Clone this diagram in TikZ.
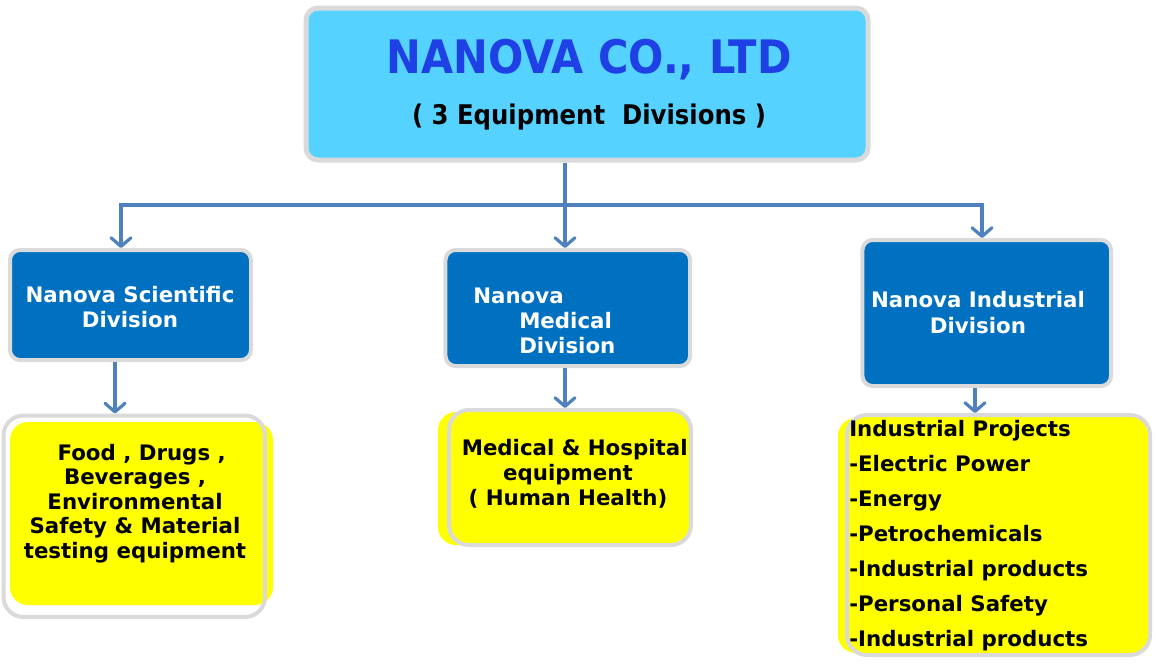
\documentclass[tikz,border=0pt]{standalone}
\usepackage{fontspec}
\setmainfont{DejaVu Sans}
\newfontfamily\narrowfont{DejaVu Sans}[FakeStretch=0.9]
\usetikzlibrary{arrows.meta}
\definecolor{topfill}{RGB}{85,210,255}
\definecolor{titleblue}{RGB}{30,64,228}
\definecolor{divblue}{RGB}{0,112,192}
\definecolor{arrowblue}{RGB}{79,129,189}
\definecolor{bordergray}{RGB}{218,218,218}
\definecolor{ylw}{RGB}{255,255,0}
\begin{document}
\begin{tikzpicture}[x=0.75pt,y=-0.75pt,
  topbox/.style={draw=bordergray, line width=3.75pt, fill=topfill, rounded corners=9pt, inner sep=0pt},
  divbox/.style={draw=bordergray, line width=3pt, fill=divblue, rounded corners=7.5pt, inner sep=0pt},
  ybox/.style={draw=bordergray, line width=3pt, rounded corners=15pt, inner sep=0pt},
  yshadow/.style={fill=ylw, rounded corners=13.5pt},
  conn/.style={draw=arrowblue, line width=2.4pt, -{Straight Barb[length=6.5pt,width=15pt,round]}},
  titletxt/.style={inner sep=0pt, text=titleblue, font=\narrowfont\bfseries\fontsize{34.6}{40}\selectfont},
  subtxt/.style={inner sep=0pt, text=black, font=\narrowfont\bfseries\fontsize{20.3}{24}\selectfont},
  whitetxt/.style={inner sep=0pt, text=white},
  blacktxt/.style={inner sep=0pt, text=black}
]
\useasboundingbox (0,0) rectangle (1156,664);

% top box
\node[topbox, minimum width=421.5pt, minimum height=114pt] (top) at (587,84) {};
\node[titletxt, anchor=base] (title) at (589,73) {NANOVA CO., LTD};
\node[subtxt, anchor=base] (subtitle) at (589,124) {( 3 Equipment\ \ Divisions )};

% division boxes
\node[divbox, minimum width=180.75pt, minimum height=82.5pt] (sci) at (130.5,305) {};
\node[divbox, minimum width=183.4pt, minimum height=87pt] (med) at (567.75,308) {};
\node[divbox, minimum width=186.4pt, minimum height=109.5pt] (ind) at (986.75,313) {};

\node[whitetxt, anchor=base, font=\bfseries\fontsize{16}{18.75}\selectfont] (scitxt) at (130,302)
  {\begin{tabular}[t]{@{}c@{}}Nanova Scientific\\Division\end{tabular}};
\node[whitetxt, anchor=base west, font=\bfseries\fontsize{16}{18.75}\selectfont] (medtxt) at (473,303)
  {\begin{tabular}[t]{@{}l@{}}Nanova\\\hspace{34.5pt}Medical\\\hspace{34.5pt}Division\end{tabular}};
\node[whitetxt, anchor=base, font=\bfseries\fontsize{16}{19.5}\selectfont] (indtxt) at (978,307)
  {\begin{tabular}[t]{@{}c@{}}Nanova Industrial\\Division\end{tabular}};

% yellow boxes
\fill[yshadow] (10,422) rectangle (273,605);
\node[ybox, minimum width=196.1pt, minimum height=151.1pt] (sciy) at (134.25,516.25) {};
\fill[yshadow] (438,412) rectangle (680,545);
\node[ybox, fill=ylw, minimum width=181.5pt, minimum height=101.25pt] (medy) at (570,477.5) {};
\fill[yshadow] (838,418) rectangle (1148,653);
\node[ybox, fill=ylw, minimum width=227.25pt, minimum height=180pt] (indy) at (998.5,535) {};

\node[blacktxt, anchor=base, font=\bfseries\fontsize{16}{18.4}\selectfont] (sciytxt) at (135,460)
  {\begin{tabular}[t]{@{}c@{}}\hspace{10pt}Food , Drugs ,\\Beverages ,\\Environmental\\Safety \& Material\\testing equipment\end{tabular}};
\node[blacktxt, anchor=base, font=\bfseries\fontsize{16}{18.75}\selectfont] (medytxt) at (568,455)
  {\begin{tabular}[t]{@{}c@{}}\hspace{10pt}Medical \& Hospital\\equipment\\( Human Health)\end{tabular}};
\node[blacktxt, anchor=base west, font=\bfseries\fontsize{16}{26.25}\selectfont] (indytxt) at (849,436)
  {\begin{tabular}[t]{@{}l@{}}Industrial Projects\\-Electric Power\\-Energy\\-Petrochemicals\\-Industrial products\\-Personal Safety\\-Industrial products\end{tabular}};

% connectors
\coordinate (busC) at (565,205);
\coordinate (xL) at (121,0);
\coordinate (xR) at (982,0);
\coordinate (xsci) at (115,0);
\coordinate (xind) at (975,0);
\draw[conn] (top.south -| busC) -- (med.north -| busC);
\draw[conn] (busC) -| (sci.north -| xL);
\draw[conn] (busC) -| (ind.north -| xR);
\draw[conn] (sci.south -| xsci) -- (sciy.north -| xsci);
\draw[conn] (med.south -| busC) -- (medy.north -| busC);
\draw[conn] (ind.south -| xind) -- (indy.north -| xind);
\end{tikzpicture}
\end{document}
